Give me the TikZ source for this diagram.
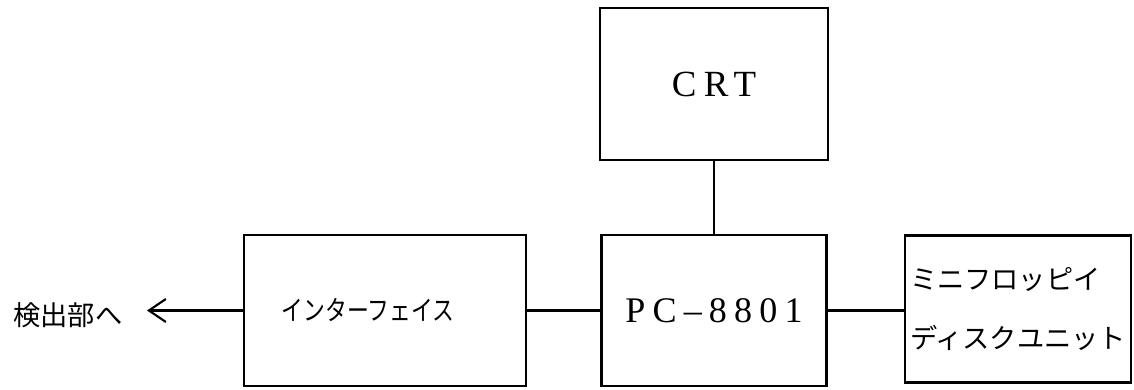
\documentclass[tikz,border=0pt]{standalone}
\usepackage{fontspec}
\usepackage{tikz}
\usetikzlibrary{arrows.meta}
\newfontfamily\jpfont{Noto Sans CJK JP}
\newfontfamily\jpnarrow[FakeStretch=0.8]{Noto Sans CJK JP}
\newfontfamily\latfont[LetterSpace=20]{Liberation Serif}

\begin{document}
\begin{tikzpicture}[blk/.style={draw, line width=1.4pt, inner sep=0pt}]
  \useasboundingbox (0,0) rectangle (22.68,7.8);
  \node[blk, minimum width=5.64cm, minimum height=3.02cm, font=\jpnarrow\fontsize{15.5}{18}\selectfont] (ifc) at (7.70,1.59) {インターフェイス\kern0.68cm};
  \node[blk, minimum width=4.50cm, minimum height=3.02cm, font=\latfont\fontsize{20.5}{24}\selectfont] (pc) at (14.28,1.59) {PC–8801};
  \node[blk, minimum width=4.56cm, minimum height=3.04cm, font=\latfont\fontsize{21}{24}\selectfont] (crt) at (14.28,6.12) {CRT};
  \node[blk, minimum width=4.52cm, minimum height=2.94cm, align=left, font=\jpfont\fontsize{15.5}{34}\selectfont] (fdd) at (20.36,1.62) {ミニフロッピイ\\ディスクユニット};
  \node[font=\jpfont\fontsize{15.5}{18}\selectfont, inner sep=0pt] (dest) at (1.36,1.50) {検出部へ};
  \coordinate (tip) at (2.94,1.59);

  \draw[line width=1.2pt] (crt.south) -- (pc.north);
  \draw[line width=1.2pt] (ifc.east) -- (pc.west);
  \draw[line width=1.2pt] (pc.east) -- (pc.east -| fdd.west);
  \draw[line width=1.2pt, -{Straight Barb[length=3.4mm, width=4.6mm]}] (ifc.west) -- (tip);
\end{tikzpicture}
\end{document}
